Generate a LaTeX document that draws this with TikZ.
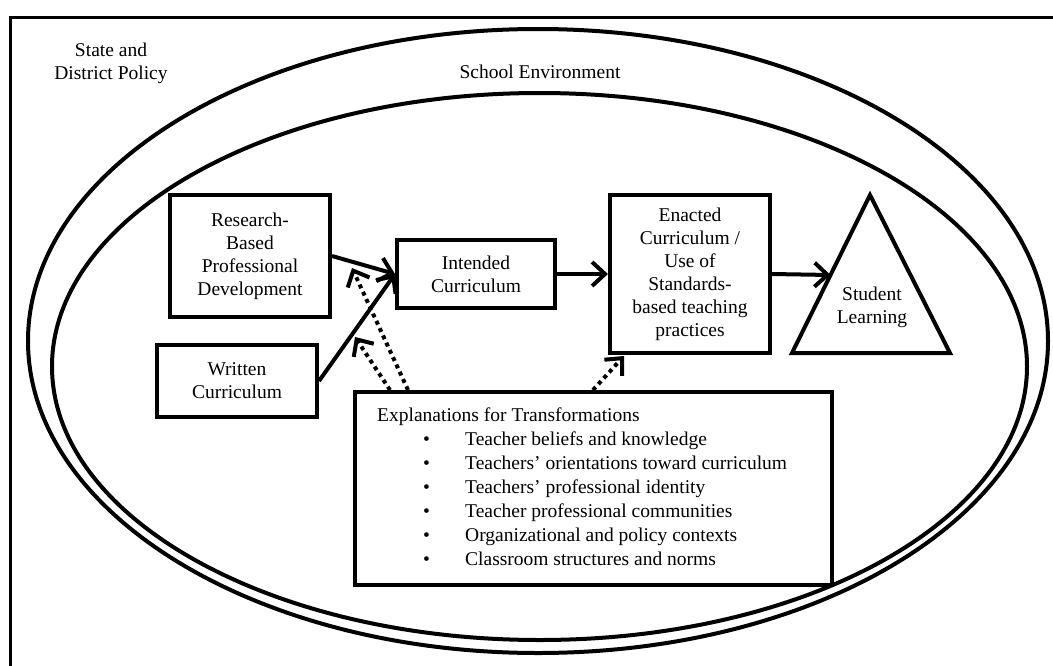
\documentclass[tikz,border=0pt]{standalone}
\usepackage{fontspec}
\setmainfont{Liberation Serif}
\usetikzlibrary{arrows.meta,calc}
\newcommand\diagfont{\fontsize{19.5}{23}\selectfont}
\newcommand\listfont{\fontsize{19.5}{24}\selectfont}
\tikzset{
  box/.style={draw, line width=4pt, inner sep=0pt, align=center, font=\diagfont},
  label/.style={inner sep=0pt, align=center, font=\diagfont},
  ring/.style={line width=4pt},
  arr/.style={line width=4pt, -{Straight Barb[length=13pt,width=24pt]}},
  dotline/.style={line width=4pt, dash pattern=on 4pt off 4pt}
}
\begin{document}
\begin{tikzpicture}[x=1pt,y=-1pt]
\useasboundingbox (0,0) rectangle (1053,665);
\clip (0,0) rectangle (1053,665);
% outer frame (cut by the page at right and bottom)
\draw[line width=3pt] (10,17) rectangle (1075,690);
% environments
\draw[ring] (538,341) ellipse [x radius=510, y radius=312];
\draw[ring] (539.5,366.5) ellipse [x radius=487.5, y radius=273.5];
\node[label] (state) at (111,63) {State and\\District Policy};
\node[label] (school) at (540,72) {School Environment};
% boxes
\node[box, minimum width=160pt, minimum height=122pt] (rpd) at (250,256) {Research-\\Based\\Professional\\Development};
\node[box, minimum width=160pt, minimum height=72pt] (wc) at (237,381) {Written\\Curriculum};
\node[box, minimum width=158pt, minimum height=68pt] (int) at (476,274) {Intended\\Curriculum};
\node[box, minimum width=160pt, minimum height=158pt] (enc) at (690,274) {Enacted\\Curriculum /\\Use of\\Standards-\\based teaching\\practices};
% triangle
\coordinate (apex) at (870,195);
\coordinate (bl) at (792,353);
\coordinate (br) at (950,353);
\draw[line width=4pt] (apex) -- (bl) -- (br) -- cycle;
\node[label] (sl) at (872,307) {Student\\Learning};
\coordinate (triin) at (830.5,275);
% explanations box
\node[box, minimum width=477pt, minimum height=193pt] (expl) at (593.5,488.5) {};
\node[inner sep=0pt, anchor=west, align=left, font=\listfont] (extext) at (377,487)
 {Explanations for Transformations\\
  \hspace*{46pt}\makebox[42pt][l]{\textbullet}Teacher beliefs and knowledge\\
  \hspace*{46pt}\makebox[42pt][l]{\textbullet}Teachers’ orientations toward curriculum\\
  \hspace*{46pt}\makebox[42pt][l]{\textbullet}Teachers’ professional identity\\
  \hspace*{46pt}\makebox[42pt][l]{\textbullet}Teacher professional communities\\
  \hspace*{46pt}\makebox[42pt][l]{\textbullet}Organizational and policy contexts\\
  \hspace*{46pt}\makebox[42pt][l]{\textbullet}Classroom structures and norms};
% solid connectors
\draw[arr] (rpd.east) -- (int.west);
\draw[arr] (wc.east) -- (int.west);
\draw[arr] (int.east) -- (enc.west);
\draw[arr] (enc.east) -- (triin);
% dotted connectors (dotted shaft, solid head)
\coordinate (d1s) at (408,390);
\coordinate (d1e) at (352,268);
\coordinate (d2s) at (390,390);
\coordinate (d2e) at (355,337);
\coordinate (d3s) at (593,390);
\coordinate (d3e) at (624,356);
\draw[dotline] (d1s) -- (d1e);
\draw[arr] ($(d1e)!3pt!(d1s)$) -- (d1e);
\draw[dotline] (d2s) -- (d2e);
\draw[arr] ($(d2e)!3pt!(d2s)$) -- (d2e);
\draw[dotline] (d3s) -- (d3e);
\draw[arr] ($(d3e)!3pt!(d3s)$) -- (d3e);
\end{tikzpicture}
\end{document}
